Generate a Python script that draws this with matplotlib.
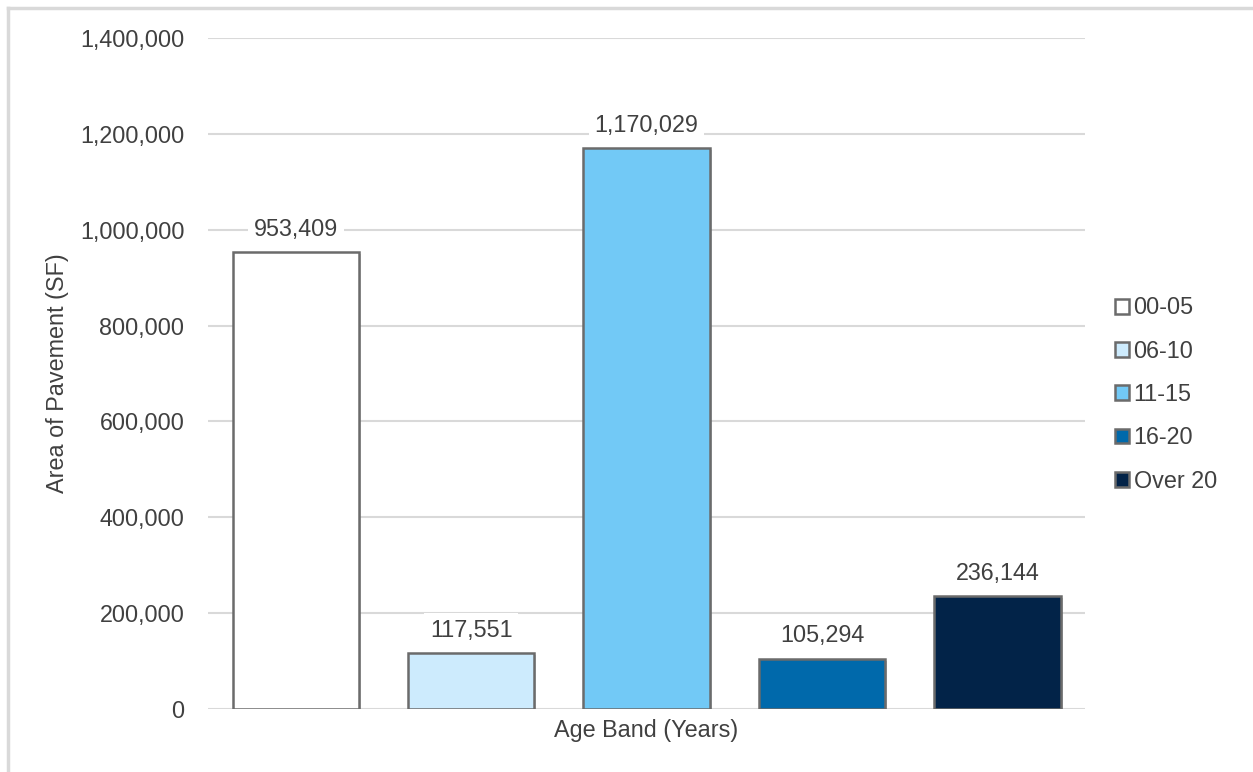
import matplotlib.pyplot as plt
from matplotlib.lines import Line2D
from matplotlib.ticker import FuncFormatter
import matplotlib.patheffects as pe

age_bands = ["00-05", "06-10", "11-15", "16-20", "Over 20"]
areas = [953409, 117551, 1170029, 105294, 236144]
bar_colors = ["#ffffff", "#cdebfd", "#72c9f6", "#0069ab", "#022348"]
y_ticks = [0, 200000, 400000, 600000, 800000, 1000000, 1200000, 1400000]

text_color = "#404040"
grid_color = "#d9d9d9"
edge_color = "#6b6b6b"
fs = 16.8

plt.rcParams["font.family"] = ["Liberation Sans", "DejaVu Sans"]

fig = plt.figure(figsize=(12.53, 7.72), dpi=100)
ax = fig.add_axes([0.1660, 0.0816, 0.7000, 0.8692])

x = list(range(len(age_bands)))
bars = ax.bar(
    x,
    areas,
    width=0.72,
    color=bar_colors,
    edgecolor=edge_color,
    linewidth=1.8,
    zorder=3,
)
for b in bars:
    b.set_path_effects([
        pe.SimplePatchShadow(offset=(1.5, -1.5), alpha=0.25),
        pe.Normal(),
    ])

for xi, v in zip(x, areas):
    ax.annotate(
        f"{v:,}",
        (xi, v),
        xytext=(0, 8),
        textcoords="offset points",
        ha="center",
        va="bottom",
        fontsize=fs,
        color=text_color,
        zorder=4,
        bbox=dict(boxstyle="square,pad=0.25", fc="white", ec="none"),
    )

ax.set_xlim(-0.5, len(age_bands) - 0.5)
ax.set_ylim(0, 1400000)
ax.set_yticks(y_ticks)
ax.yaxis.set_major_formatter(FuncFormatter(lambda v, _: f"{int(v):,}"))
ax.set_xticks([])
ax.tick_params(axis="y", length=0, pad=17, labelsize=fs, labelcolor=text_color)
ax.grid(axis="y", color=grid_color, linewidth=1.5, zorder=0)
for s in ax.spines.values():
    s.set_visible(False)

ax.set_xlabel("Age Band (Years)", fontsize=fs, color=text_color, labelpad=7)
ax.set_ylabel("Area of Pavement (SF)", fontsize=fs, color=text_color, labelpad=8)

handles = [
    plt.Rectangle((0, 0), 1, 1, facecolor=c, edgecolor=edge_color, linewidth=1.8)
    for c in bar_colors
]
fig.legend(
    handles,
    age_bands,
    loc="center left",
    bbox_to_anchor=(0.873, 0.489),
    frameon=False,
    fontsize=fs,
    labelcolor=text_color,
    handlelength=0.6,
    handleheight=0.6,
    handletextpad=0.2,
    labelspacing=0.87,
)

# thin frame along the top and left edges
fig.add_artist(Line2D([0.0066, 0.0066], [0.0, 0.989], color="#d9d9d9", linewidth=2.5))
fig.add_artist(Line2D([0.0066, 1.0], [0.989, 0.989], color="#d9d9d9", linewidth=2.5))

fig.savefig("out.png", dpi=100)
